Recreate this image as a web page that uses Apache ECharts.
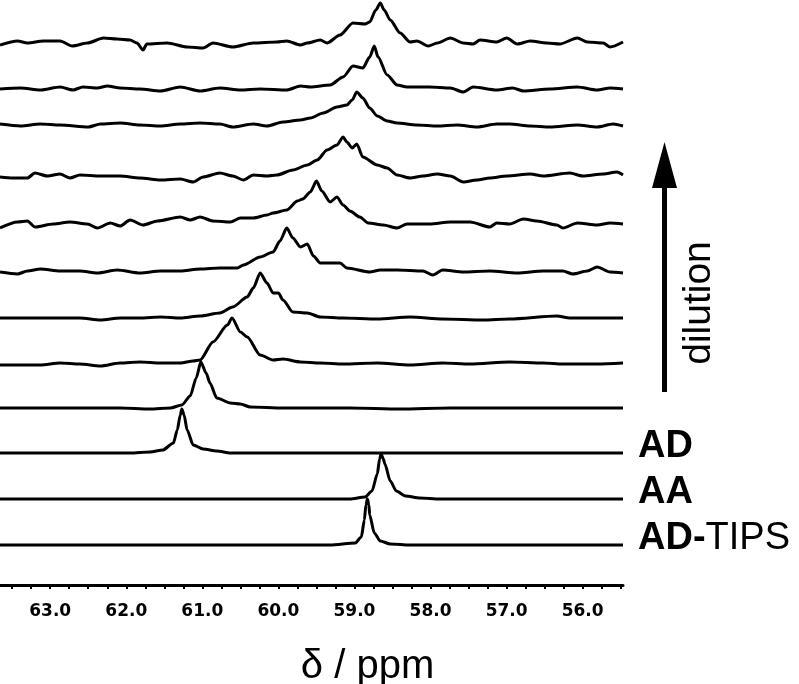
<!DOCTYPE html>
<html>
<head>
<meta charset="utf-8">
<script src="https://cdn.jsdelivr.net/npm/echarts@6/dist/echarts.min.js"></script>
<style>
html,body{margin:0;padding:0;background:#fff;}
#chart{width:799px;height:684px;}
</style>
</head>
<body>
<div id="chart"></div>
<script>
// Each trace: [ppm, intensity above its own baseline]
const trace1 = [[63.66,-2],[63.43,2],[63.30,0],[63.09,2],[62.87,2],[62.71,-3],[62.51,0],[62.30,5],[62.12,4],[61.95,3],[61.86,0],[61.78,-7],[61.73,-1],[61.46,0],[61.20,-4],[60.99,-5],[60.86,0],[60.60,-4],[60.33,0],[60.02,1],[59.89,2],[59.71,-2],[59.62,0],[59.45,3],[59.36,0],[59.19,8],[59.02,20],[58.86,19],[58.80,21],[58.72,33],[58.66,40],[58.61,33],[58.53,23],[58.40,10],[58.27,1],[58.18,2],[58.03,-3],[57.91,0],[57.74,5],[57.57,0],[57.44,-1],[57.35,3],[57.13,1],[57.00,5],[56.86,-1],[56.69,2],[56.47,0],[56.30,-1],[56.07,5],[55.94,1],[55.73,0],[55.64,-4],[55.47,1]];
const trace2 = [[63.66,-1],[63.39,0],[63.13,-2],[62.87,1],[62.70,-2],[62.57,1],[62.38,0],[62.25,2],[62.08,0],[61.82,-1],[61.55,-3],[61.29,1],[61.03,-3],[60.77,0],[60.50,-2],[60.24,-1],[59.89,-2],[59.71,2],[59.58,1],[59.32,3],[59.15,11],[59.02,22],[58.89,20],[58.80,31],[58.74,42],[58.69,31],[58.57,13],[58.44,3],[58.31,1],[58.01,1],[57.74,0],[57.57,-4],[57.44,1],[57.13,-2],[56.92,0],[56.78,-3],[56.43,-1],[56.07,1],[55.81,-2],[55.64,0],[55.47,-1]];
const trace3 = [[63.66,1],[63.39,-1],[63.13,1],[62.87,0],[62.50,-2],[62.34,1],[62.08,2],[61.82,0],[61.55,-1],[61.29,1],[61.03,2],[60.77,1],[60.60,-2],[60.33,1],[60.15,-1],[59.94,3],[59.71,5],[59.58,7],[59.41,12],[59.23,18],[59.10,20],[59.03,25],[58.97,33],[58.89,27],[58.80,17],[58.70,9],[58.57,4],[58.44,2],[58.18,0],[57.91,-1],[57.65,0],[57.39,-2],[57.13,1],[56.96,1],[56.69,-1],[56.43,-2],[56.07,0],[55.81,-2],[55.60,1],[55.47,-1]];
const trace4 = [[63.66,-1],[63.49,-2],[63.30,-2],[63.20,3],[63.04,0],[62.87,2],[62.74,-2],[62.61,1],[62.34,0],[62.08,0],[61.82,-2],[61.55,-4],[61.29,-3],[61.12,-6],[60.99,-1],[60.77,3],[60.60,0],[60.46,-4],[60.33,1],[60.15,0],[60.02,1],[59.81,6],[59.62,11],[59.49,16],[59.36,26],[59.23,31],[59.15,39],[59.10,34],[59.03,28],[58.97,32],[58.89,19],[58.70,11],[58.57,8],[58.44,1],[58.27,-2],[58.10,0],[57.91,2],[57.74,0],[57.57,-6],[57.39,-4],[57.22,-2],[57.00,0],[56.69,2],[56.52,0],[56.17,3],[56.00,0],[55.73,2],[55.55,4],[55.47,1]];
const trace5 = [[63.66,-5],[63.43,1],[63.30,2],[63.20,-4],[62.96,-1],[62.74,1],[62.51,-1],[62.38,-5],[62.21,0],[62.08,-3],[61.95,3],[61.78,-2],[61.59,2],[61.29,6],[61.16,3],[61.03,6],[60.86,2],[60.63,1],[60.50,5],[60.33,5],[60.15,8],[60.07,10],[59.89,13],[59.75,22],[59.68,24],[59.58,31],[59.50,42],[59.43,32],[59.32,21],[59.23,26],[59.15,18],[59.06,12],[58.93,6],[58.82,0],[58.62,-2],[58.44,-5],[58.31,-1],[58.01,-1],[57.74,1],[57.48,1],[57.22,-4],[57.13,0],[56.96,-1],[56.78,4],[56.60,2],[56.34,-2],[56.26,-5],[56.07,0],[55.81,-2],[55.64,0],[55.47,-1]];
const trace6 = [[63.66,-1],[63.43,-3],[63.30,0],[63.13,2],[62.87,0],[62.61,0],[62.38,-2],[62.12,1],[61.82,-2],[61.55,0],[61.29,0],[61.03,2],[60.77,3],[60.54,3],[60.46,6],[60.24,14],[60.07,19],[59.98,30],[59.89,43],[59.81,33],[59.71,24],[59.62,27],[59.54,15],[59.45,8],[59.32,8],[59.19,8],[59.10,3],[58.80,-1],[58.66,1],[58.44,1],[58.10,0],[57.97,-4],[57.84,1],[57.57,-1],[57.22,0],[56.86,-2],[56.52,0],[56.26,0],[56.13,-3],[55.94,0],[55.81,4],[55.64,-1],[55.47,-2]];
const trace7 = [[63.66,0],[63.39,0],[63.13,0],[62.87,0],[62.61,0],[62.34,-2],[62.08,0],[61.82,0],[61.55,1],[61.29,0],[61.03,2],[60.77,5],[60.60,11],[60.41,21],[60.33,30],[60.24,45],[60.15,35],[60.07,25],[60.00,25],[59.94,18],[59.81,6],[59.62,5],[59.45,1],[59.15,0],[58.70,-1],[58.27,1],[57.84,-1],[57.31,-2],[56.96,-1],[56.34,2],[56.17,0],[55.81,0],[55.47,0]];
const trace8 = [[63.66,-1],[63.39,-1],[63.13,-1],[62.87,1],[62.61,0],[62.34,-2],[62.08,1],[61.82,2],[61.55,1],[61.29,1],[61.12,3],[61.03,4],[60.86,22],[60.67,39],[60.61,46],[60.50,32],[60.41,27],[60.24,9],[60.07,4],[59.94,5],[59.71,2],[59.45,1],[59.15,0],[58.70,1],[58.27,-1],[57.84,1],[57.48,0],[56.96,2],[56.52,1],[56.26,0],[55.81,0],[55.47,1]];
const trace9 = [[63.66,0],[63.13,0],[62.61,0],[62.08,0],[61.69,-1],[61.42,0],[61.27,3],[61.16,12],[61.08,30],[61.02,46],[60.95,35],[60.90,25],[60.81,10],[60.63,5],[60.50,4],[60.37,1],[59.94,0],[59.49,0],[59.06,0],[58.40,-1],[57.74,0],[57.09,0],[56.43,0],[55.77,0],[55.47,0]];
const traceAD = [[63.66,0],[62.87,0],[62.34,0],[61.95,0],[61.69,1],[61.52,3],[61.38,10],[61.33,23],[61.29,38],[61.27,44],[61.24,38],[61.20,23],[61.12,8],[60.99,4],[60.81,2],[60.63,0],[59.71,0],[58.40,0],[57.09,0],[55.47,0]];
const traceAA = [[63.66,0],[62.34,0],[61.03,0],[59.71,0],[59.06,0],[58.86,2],[58.77,8],[58.70,25],[58.67,40],[58.65,45],[58.62,40],[58.60,35],[58.53,18],[58.45,8],[58.33,3],[58.14,1],[57.88,0],[57.09,0],[55.47,0]];
const traceADTIPS = [[63.66,0],[61.03,0],[59.32,0],[58.99,2],[58.91,8],[58.87,25],[58.85,40],[58.83,46],[58.81,40],[58.80,30],[58.74,12],[58.66,4],[58.53,1],[58.27,0],[55.47,0]];

// vertical offsets (stacking) of each trace, top to bottom
const baselines = [542, 497, 460, 409, 362, 314, 267, 221, 177, 132, 86, 40];
const traceLabels = ['', '', '', '', '', '', '', '', '', 'AD', 'AA', 'AD-TIPS'];
const tickLabels = [63, 62, 61, 60, 59, 58, 57, 56];
const xRange = [55.47, 63.66];

const traces = [trace1, trace2, trace3, trace4, trace5, trace6, trace7, trace8, trace9, traceAD, traceAA, traceADTIPS];

const minorTicks = [];
for (let v = 55.5; v <= 63.5001; v += 0.25) minorTicks.push(+v.toFixed(2));

const chart = echarts.init(document.getElementById('chart'), null, {renderer: 'canvas'});

const labelStyle = {
  show: true,
  position: 'right',
  distance: 15,
  offset: [0, -6],
  color: '#000',
  fontFamily: 'Liberation Sans',
  fontSize: 38,
  fontWeight: 'bold',
  rich: {
    b: {fontFamily: 'Liberation Sans', fontSize: 38, fontWeight: 'bold', color: '#000'},
    n: {fontFamily: 'Liberation Sans', fontSize: 38, fontWeight: 'normal', color: '#000'}
  }
};

const series = traces.map((tr, i) => {
  const data = tr.map(p => [p[0], baselines[i] + p[1]]);
  const s = {
    type: 'line',
    data: data,
    showSymbol: false,
    symbol: 'none',
    clip: false,
    smooth: 0.25,
    smoothMonotone: 'x',
    lineStyle: {color: '#000', width: 3},
    silent: true
  };
  if (traceLabels[i]) {
    const last = data[data.length - 1];
    const txt = traceLabels[i] === 'AD-TIPS' ? '{b|AD-}{n|TIPS}' : traceLabels[i];
    s.markPoint = {
      silent: true,
      symbol: 'circle',
      symbolSize: 0,
      itemStyle: {color: 'rgba(0,0,0,0)'},
      label: Object.assign({}, labelStyle, {formatter: txt}),
      data: [{coord: last}]
    };
  }
  return s;
});

chart.setOption({
  animation: false,
  backgroundColor: '#fff',
  grid: {left: 0, right: 176, top: 0, bottom: 99, containLabel: false, outerBoundsMode: 'none'},
  xAxis: {
    type: 'value',
    inverse: true,
    min: xRange[0],
    max: xRange[1],
    axisLine: {show: true, lineStyle: {color: '#000', width: 3}},
    axisTick: {show: true, customValues: minorTicks, length: 4, lineStyle: {color: '#000', width: 2}},
    axisLabel: {
      customValues: tickLabels,
      formatter: v => Number(v).toFixed(1),
      color: '#000',
      fontFamily: 'DejaVu Sans',
      fontWeight: 'bold',
      fontSize: 17,
      margin: 18
    },
    splitLine: {show: false},
    name: 'δ / ppm',
    nameLocation: 'middle',
    nameGap: 62,
    nameTextStyle: {fontFamily: 'Liberation Sans', fontSize: 40, color: '#000', padding: [0, 0, 0, 112]}
  },
  yAxis: {
    type: 'value',
    min: 0,
    max: 585,
    show: false
  },
  series: series,
  graphic: [
    {type: 'rect', shape: {x: 662, y: 180, width: 5, height: 212}, style: {fill: '#000'}},
    {type: 'polygon', shape: {points: [[652, 188], [664.5, 142], [677, 188]]}, style: {fill: '#000'}},
    {type: 'text', x: 699, y: 303, rotation: Math.PI / 2,
     style: {text: 'dilution', x: 0, y: 0, align: 'center', verticalAlign: 'middle',
             font: '39px "Liberation Sans"', fill: '#000'}}
  ]
});
</script>
</body>
</html>
